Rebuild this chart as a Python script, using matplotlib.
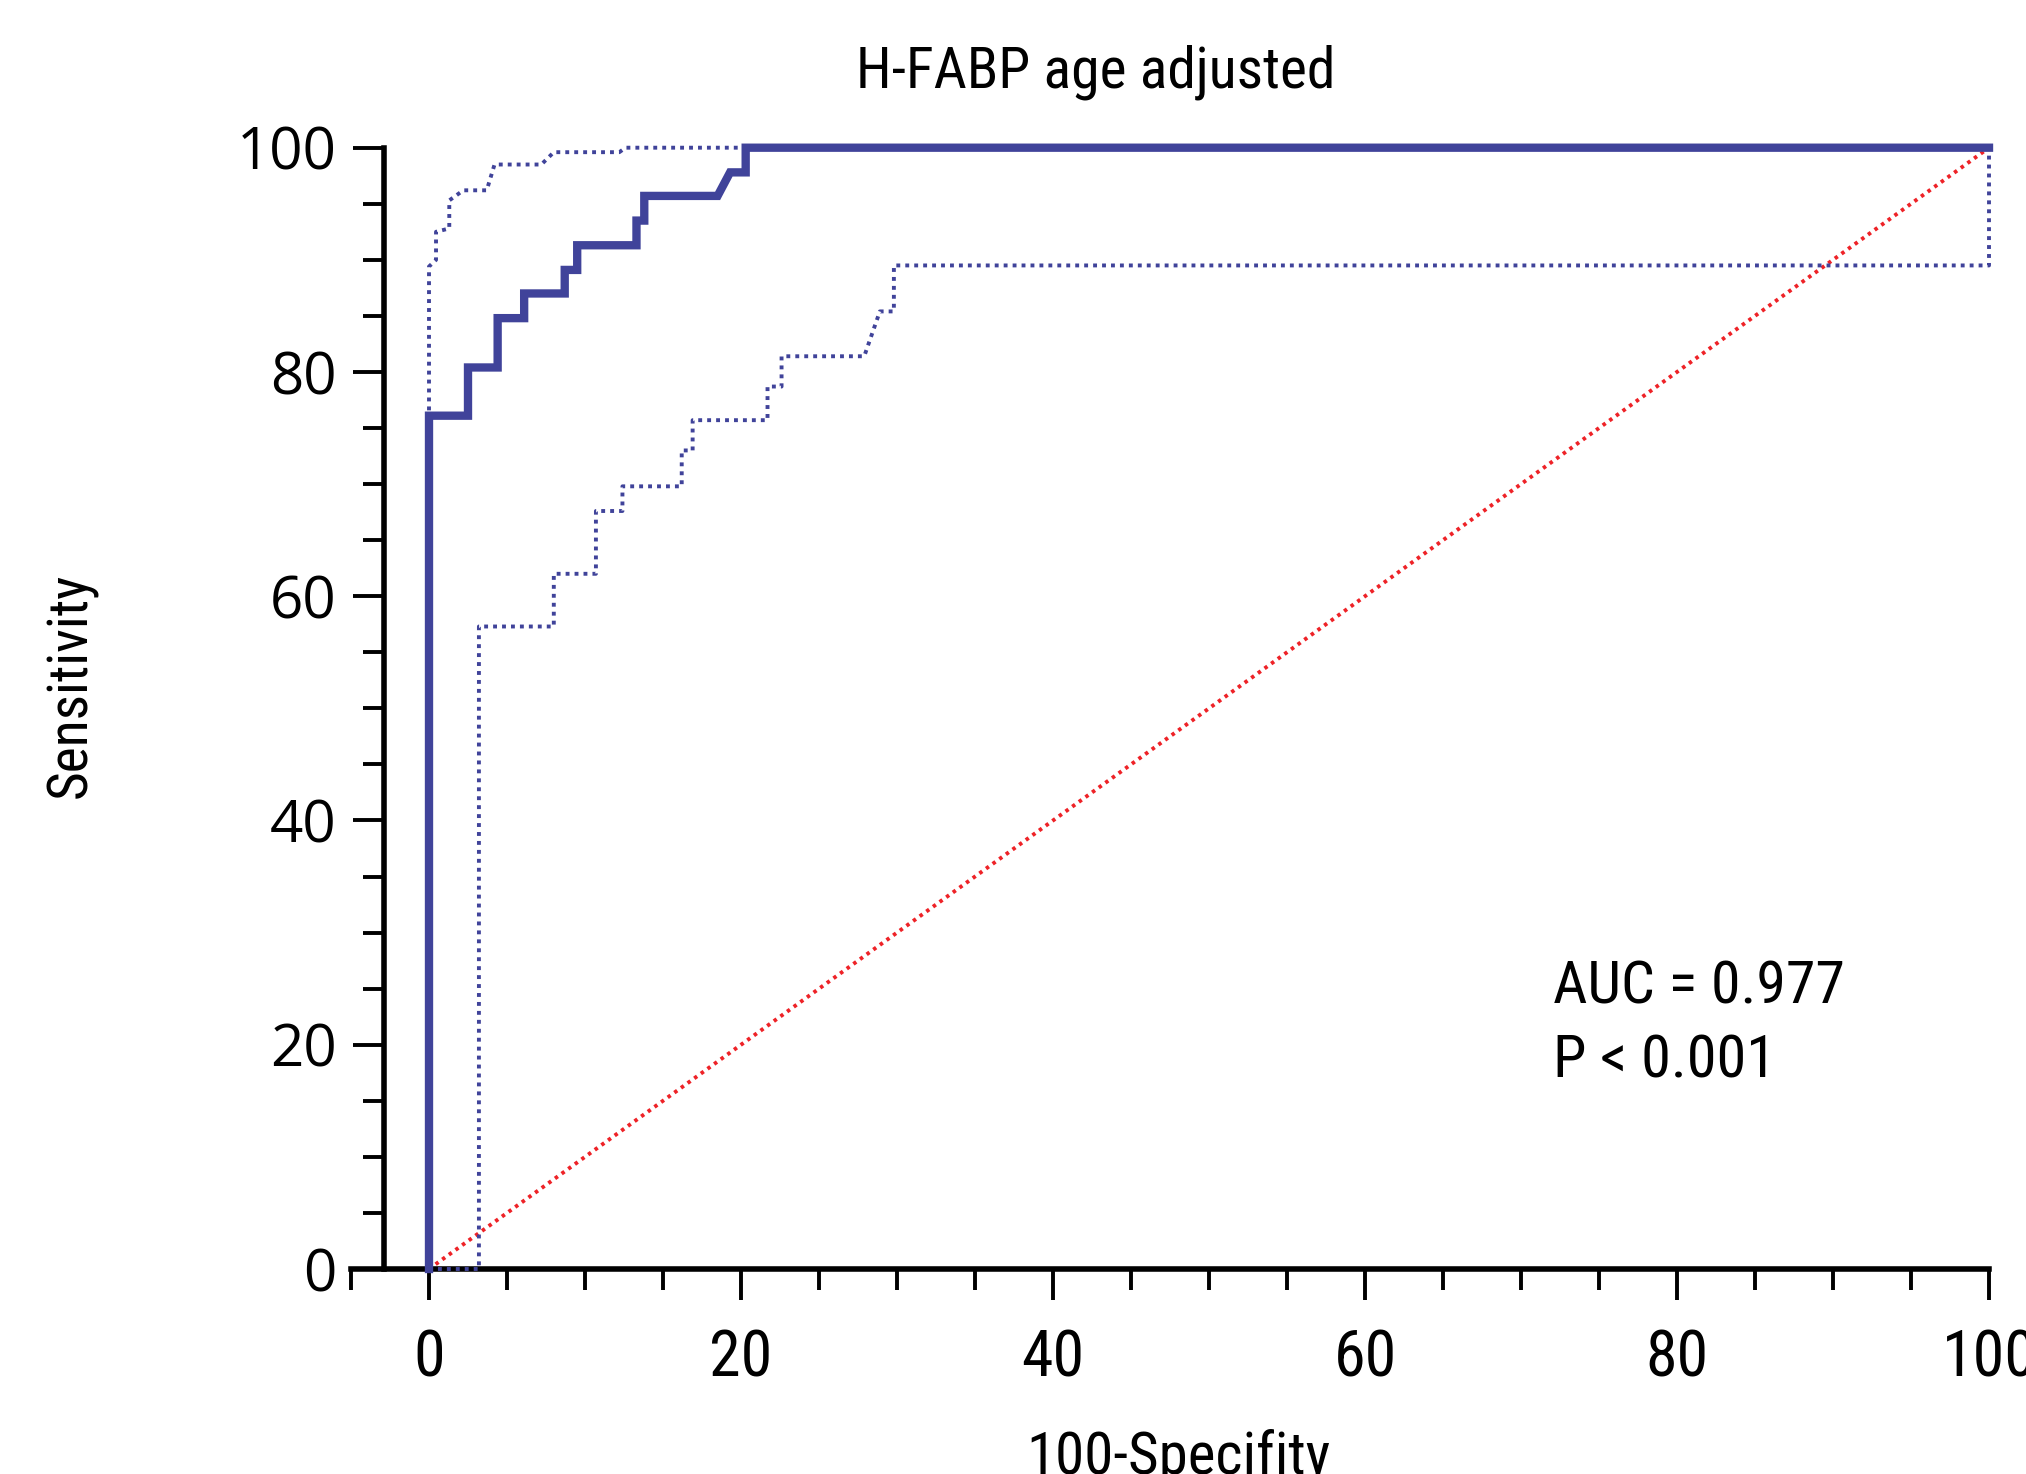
import matplotlib
matplotlib.use("Agg")
import matplotlib.pyplot as plt
from matplotlib.ticker import MultipleLocator
from matplotlib import font_manager as fm

# ---- data ----
roc_x = [0, 0, 2.5, 2.5, 4.4, 4.4, 6.1, 6.1, 8.7, 8.7, 9.5, 9.5, 13.3, 13.3, 13.8, 13.8, 18.5, 19.3, 20.3, 20.3, 100]
roc_y = [0, 76.1, 76.1, 80.4, 80.4, 84.8, 84.8, 87.0, 87.0, 89.1, 89.1, 91.3, 91.3, 93.5, 93.5, 95.7, 95.7, 97.8, 97.8, 100, 100]

upper_x = [0, 0, 0.45, 0.45, 1.3, 1.3, 2.2, 3.7, 4.2, 7.2, 8.0, 12.2, 12.6, 100]
upper_y = [0, 89.4, 90.0, 92.5, 92.8, 95.3, 96.2, 96.2, 98.5, 98.5, 99.6, 99.6, 100, 100]

lower_x = [0, 3.2, 3.2, 8.0, 8.0, 10.7, 10.7, 12.4, 12.4, 16.2, 16.2, 16.9, 16.9, 21.7, 21.7, 22.6, 22.6, 27.9, 28.9, 29.8, 29.8, 100, 100]
lower_y = [0, 0, 57.3, 57.3, 62.0, 62.0, 67.6, 67.6, 69.8, 69.8, 73.0, 73.0, 75.7, 75.7, 78.7, 78.7, 81.4, 81.4, 85.4, 85.4, 89.5, 89.5, 100]

diag_x = [0, 100]
diag_y = [0, 100]

x_ticks = [0, 20, 40, 60, 80, 100]
y_ticks = [0, 20, 40, 60, 80, 100]

title = "H-FABP age adjusted"
xlabel = "100-Specifity"
ylabel = "Sensitivity"
auc_text = "AUC = 0.977"
p_text = "P < 0.001"

BLUE = "#40439A"
RED = "#EE2227"


def narrow_font():
    entries = fm.fontManager.ttflist
    prefs = ["Liberation Sans Narrow", "Roboto Condensed", "Open Sans Condensed",
             "Noto Sans Condensed", "DejaVu Sans Condensed"]
    for p in prefs:
        for f in entries:
            if f.name == p and f.weight in (400, "normal", "regular") and f.style == "normal":
                return fm.FontProperties(fname=f.fname)
    for fam in ["DejaVu Sans", "Noto Sans", "Open Sans", "Roboto", "Inter"]:
        for f in entries:
            st = str(f.stretch).lower()
            if f.name == fam and ("condensed" in st or st in ("semi-condensed",) or (st.isdigit() and int(st) < 500)) \
                    and f.style == "normal" and f.weight in (400, "normal", "regular"):
                return fm.FontProperties(fname=f.fname)
    for f in entries:
        if ("Narrow" in f.name or "Condensed" in f.name) and f.style == "normal":
            return fm.FontProperties(fname=f.fname)
    return fm.FontProperties(family="DejaVu Sans", stretch="condensed")


NP = narrow_font()


def nfp(size):
    p = NP.copy()
    p.set_size(size)
    return p


W, H = 2026, 1474
fig = plt.figure(figsize=(W / 100, H / 100), dpi=100)
left, right = 351 / W, 1989 / W
bottom, top = 1 - 1269 / H, 1 - 147.7 / H
ax = fig.add_axes([left, bottom, right - left, top - bottom])

ax.plot(diag_x, diag_y, color=RED, lw=2.8, linestyle=(0, (0.9, 1.2)), clip_on=False, zorder=2)
ax.plot(lower_x, lower_y, color=BLUE, lw=2.8, linestyle=(0, (1.0, 1.3)), clip_on=False, zorder=3)
ax.plot(upper_x, upper_y, color=BLUE, lw=2.8, linestyle=(0, (1.0, 1.3)), clip_on=False, zorder=3)
ax.plot(roc_x, roc_y, color=BLUE, lw=6.0, solid_joinstyle="miter", clip_on=False, zorder=4)

ax.set_xlim(-5, 100)
ax.set_ylim(0, 100)

for s in ["top", "right"]:
    ax.spines[s].set_visible(False)
ax.spines["left"].set_position(("data", -2.9))
ax.spines["left"].set_linewidth(4.0)
ax.spines["bottom"].set_linewidth(4.0)

ax.set_xticks(x_ticks)
ax.set_yticks(y_ticks)
ax.xaxis.set_minor_locator(MultipleLocator(5))
ax.yaxis.set_minor_locator(MultipleLocator(5))
ax.tick_params(axis="both", which="major", length=22, width=2.8, direction="out")
ax.tick_params(axis="both", which="minor", length=15, width=2.8, direction="out")
ax.tick_params(axis="x", which="major", pad=20)
ax.tick_params(axis="y", which="major", pad=12)

ax.set_xticklabels([str(v) for v in x_ticks], fontproperties=nfp(46))
ax.set_yticklabels([str(v) for v in y_ticks], fontsize=42, family=["Open Sans", "DejaVu Sans"])
for lab in ax.get_xticklabels():
    lab.set_clip_on(False)

fig.text(1096 / W, 1 - 87 / H, title, ha="center", va="baseline", fontproperties=nfp(41.5))
fig.text(1178 / W, 1 - 1474 / H, xlabel, ha="center", va="baseline", fontproperties=nfp(42.5))
fig.text(71 / W, 1 - 685 / H, ylabel, ha="center", va="center", rotation=90, fontproperties=nfp(40))
fig.text(1553 / W, 1 - 1003 / H, auc_text, ha="left", va="baseline", fontproperties=nfp(43))
fig.text(1553 / W, 1 - 1077 / H, p_text, ha="left", va="baseline", fontproperties=nfp(43.5))

fig.savefig("out.png", dpi=100)
